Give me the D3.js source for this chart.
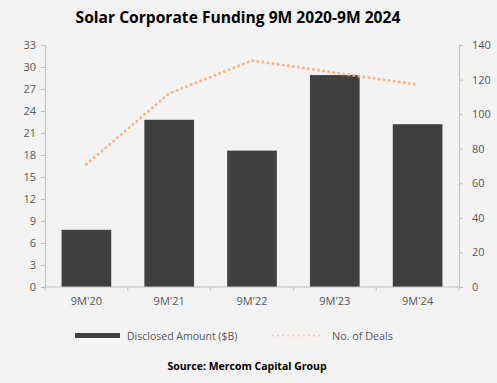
<!DOCTYPE html>
<html><head><meta charset="utf-8">
<script src="https://cdn.jsdelivr.net/npm/d3@7"></script>
<style>body{margin:0;background:#F2F2F2;} svg{display:block;font-family:"Open Sans",sans-serif;}</style>
</head><body><svg id="c" width="497" height="383"></svg>
<script>
const categories = ["9M'20","9M'21","9M'22","9M'23","9M'24"];
const amounts = [7.8, 22.8, 18.6, 28.9, 22.2];
const deals = [71, 112, 131, 124, 117];
const leftTicks = [0,3,6,9,12,15,18,21,24,27,30,33];
const rightTicks = [0,20,40,60,80,100,120,140];

const svg = d3.select("#c");
svg.append("rect").attr("width",497).attr("height",383).attr("fill","#F2F2F2");
const m = {l:45, r:459, t:45, b:287};
const x = d3.scaleBand().domain(categories).range([m.l,m.r]).paddingInner(0.4).paddingOuter(0.2);
const yL = d3.scaleLinear().domain([0,33]).range([m.b,m.t]);
const yR = d3.scaleLinear().domain([0,140]).range([m.b,m.t]);
const axisCol = "#BFBFBF", txtCol = "#595959";

svg.append("text").attr("x",238).attr("y",23).attr("text-anchor","middle")
  .attr("font-size",15.6).attr("font-weight","bold").attr("fill","#000")
  .text("Solar Corporate Funding 9M 2020-9M 2024");

// bars
svg.selectAll("rect.bar").data(amounts).join("rect").attr("class","bar")
  .attr("x",(d,i)=>x(categories[i])).attr("width",x.bandwidth())
  .attr("y",d=>yL(d)).attr("height",d=>yL(0)-yL(d)).attr("fill","#404040");

// line
const line = d3.line().x((d,i)=>x(categories[i])+x.bandwidth()/2).y(d=>yR(d));
svg.append("path").datum(deals).attr("d",line).attr("fill","none")
  .attr("stroke","#F4B183").attr("stroke-width",3).attr("stroke-linecap","round")
  .attr("stroke-dasharray","0.1,5").attr("opacity",0.9);

// left axis
const gL = svg.append("g").attr("transform",`translate(${m.l},0)`)
  .call(d3.axisLeft(yL).tickValues(leftTicks).tickSize(4).tickPadding(5));
// right axis
const gR = svg.append("g").attr("transform",`translate(${m.r},0)`)
  .call(d3.axisRight(yR).tickValues(rightTicks).tickSize(4).tickPadding(9));
// x axis
const gX = svg.append("g").attr("transform",`translate(0,${m.b})`)
  .call(d3.axisBottom(x).tickSize(0).tickPadding(10));
const bounds = d3.range(categories.length+1).map(i=>m.l + i*(m.r-m.l)/categories.length);
gX.selectAll("line.b").data(bounds).join("line").attr("class","b")
  .attr("x1",d=>d).attr("x2",d=>d).attr("y1",0).attr("y2",4).attr("stroke",axisCol);

[gL,gR,gX].forEach(g=>{
  g.selectAll(".domain").attr("stroke",axisCol);
  g.selectAll(".tick line").attr("stroke",axisCol);
  g.selectAll("text").attr("fill",txtCol).attr("font-size",11).attr("font-family","'Open Sans',sans-serif");
});
gX.select(".domain").attr("d",`M${m.l},0H${m.r}`);

// legend
svg.append("rect").attr("x",75).attr("y",333).attr("width",45).attr("height",5).attr("fill","#404040");
svg.append("text").attr("x",127).attr("y",339.5).attr("font-size",10.5).attr("fill",txtCol).text("Disclosed Amount ($B)");
svg.append("line").attr("x1",273).attr("x2",324).attr("y1",335.5).attr("y2",335.5)
  .attr("stroke","#F4B183").attr("stroke-width",2).attr("stroke-linecap","round").attr("stroke-dasharray","0.1,5").attr("opacity",0.6);
svg.append("text").attr("x",332).attr("y",339.5).attr("font-size",10.8).attr("fill",txtCol).text("No. of Deals");

svg.append("text").attr("x",247).attr("y",370).attr("text-anchor","middle")
  .attr("font-size",10.5).attr("font-weight","bold").attr("fill","#000").text("Source: Mercom Capital Group");
</script></body></html>
